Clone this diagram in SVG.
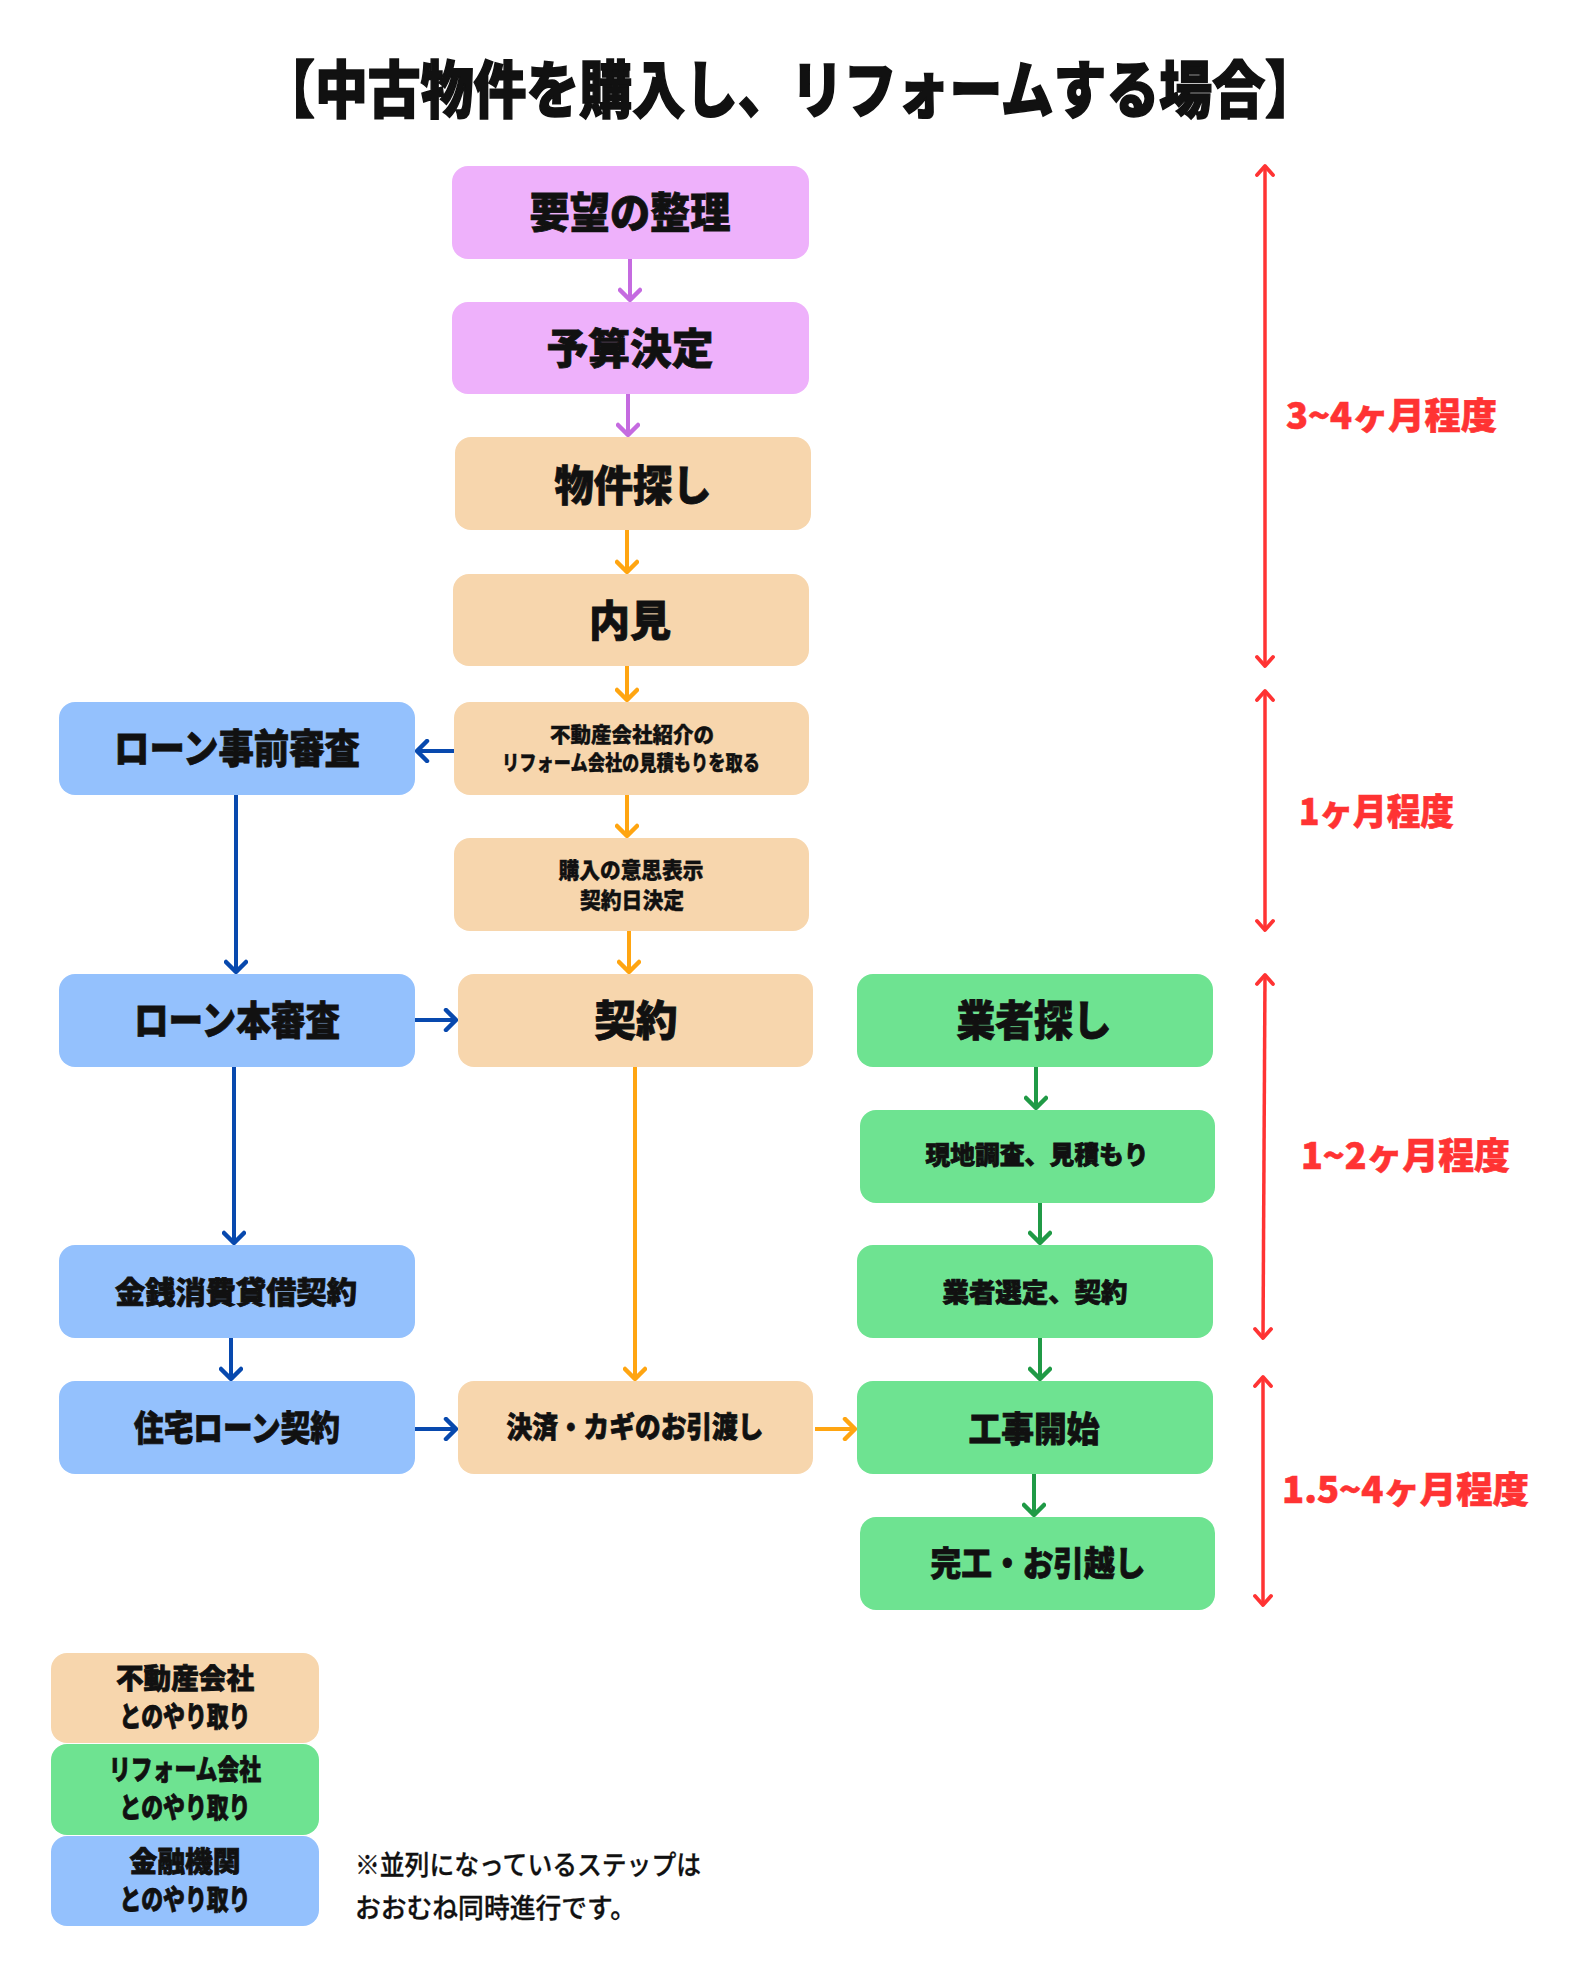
<svg xmlns="http://www.w3.org/2000/svg" width="1581" height="1977" viewBox="0 0 1581 1977">
<defs>
<style>
.t{font-family:"Noto Sans CJK JP","Noto Sans",sans-serif;font-weight:900;fill:#111;stroke:#111;stroke-width:0.8;text-anchor:middle;dominant-baseline:central;}
.r{font-family:"Noto Sans CJK JP","Noto Sans",sans-serif;font-weight:900;fill:#FF3333;stroke:#FF3333;stroke-width:0.6;dominant-baseline:central;}
.note{font-family:"Noto Sans CJK JP","Noto Sans",sans-serif;font-weight:500;fill:#111;stroke:#111;stroke-width:0.3;dominant-baseline:central;}
.pu{fill:#EEB1FB;}
.pe{fill:#F7D6AD;}
.bl{fill:#94C1FD;}
.gr{fill:#6EE391;}
.c{fill:none;stroke-width:4;}
.cp{stroke:#C56BE0;marker-end:url(#mp);}
.co{stroke:#FFA511;marker-end:url(#mo);}
.cb{stroke:#0849AE;marker-end:url(#mb);}
.cg{stroke:#209A46;marker-end:url(#mg);}
.cr{stroke:#FF3333;stroke-width:3.5;marker-end:url(#mr);marker-start:url(#mr);}
</style>
<marker id="mp" viewBox="0 0 24 24" refX="20" refY="12" markerWidth="24" markerHeight="24" markerUnits="userSpaceOnUse" orient="auto-start-reverse"><path d="M10,2 L20,12 L10,22" fill="none" stroke="#C56BE0" stroke-width="4.5" stroke-linecap="round" stroke-linejoin="round"/></marker>
<marker id="mo" viewBox="0 0 24 24" refX="20" refY="12" markerWidth="24" markerHeight="24" markerUnits="userSpaceOnUse" orient="auto-start-reverse"><path d="M10,2 L20,12 L10,22" fill="none" stroke="#FFA511" stroke-width="4.5" stroke-linecap="round" stroke-linejoin="round"/></marker>
<marker id="mb" viewBox="0 0 24 24" refX="20" refY="12" markerWidth="24" markerHeight="24" markerUnits="userSpaceOnUse" orient="auto-start-reverse"><path d="M10,2 L20,12 L10,22" fill="none" stroke="#0849AE" stroke-width="4.5" stroke-linecap="round" stroke-linejoin="round"/></marker>
<marker id="mg" viewBox="0 0 24 24" refX="20" refY="12" markerWidth="24" markerHeight="24" markerUnits="userSpaceOnUse" orient="auto-start-reverse"><path d="M10,2 L20,12 L10,22" fill="none" stroke="#209A46" stroke-width="4.5" stroke-linecap="round" stroke-linejoin="round"/></marker>
<marker id="mr" viewBox="0 0 24 24" refX="20" refY="12" markerWidth="24" markerHeight="24" markerUnits="userSpaceOnUse" orient="auto-start-reverse"><path d="M11,4 L20,12 L11,20" fill="none" stroke="#FF3333" stroke-width="3.8" stroke-linecap="round" stroke-linejoin="round"/></marker>
</defs>
<rect width="1581" height="1977" fill="#FFFFFF"/>

<text class="t" x="790" y="86" font-size="62" style="stroke-width:1.6" textLength="1056" lengthAdjust="spacingAndGlyphs">【中古物件を購入し、リフォームする場合】</text>

<g id="connectors">
<line class="c cp" x1="630" y1="259" x2="630" y2="300"/>
<line class="c cp" x1="628" y1="394" x2="628" y2="435"/>
<line class="c co" x1="627" y1="530" x2="627" y2="572"/>
<line class="c co" x1="627" y1="666" x2="627" y2="700"/>
<line class="c cb" x1="454" y1="751" x2="417" y2="751"/>
<line class="c co" x1="627" y1="795" x2="627" y2="836"/>
<line class="c co" x1="629" y1="931" x2="629" y2="972"/>
<line class="c cb" x1="236" y1="795" x2="236" y2="972"/>
<line class="c cb" x1="415" y1="1020" x2="456" y2="1020"/>
<line class="c cb" x1="234" y1="1067" x2="234" y2="1243"/>
<line class="c cb" x1="231" y1="1338" x2="231" y2="1379"/>
<line class="c co" x1="635" y1="1067" x2="635" y2="1379"/>
<line class="c cb" x1="415" y1="1429" x2="456" y2="1429"/>
<line class="c co" x1="815" y1="1429" x2="855" y2="1429"/>
<line class="c cg" x1="1036" y1="1067" x2="1036" y2="1108"/>
<line class="c cg" x1="1040" y1="1203" x2="1040" y2="1243"/>
<line class="c cg" x1="1040" y1="1338" x2="1040" y2="1379"/>
<line class="c cg" x1="1034" y1="1474" x2="1034" y2="1515"/>
<line class="c cr" x1="1265" y1="166" x2="1265" y2="666"/>
<line class="c cr" x1="1265" y1="691" x2="1265" y2="930"/>
<line class="c cr" x1="1265" y1="975" x2="1263" y2="1338"/>
<line class="c cr" x1="1263" y1="1377" x2="1263" y2="1605"/>
</g>

<g id="n-youbou"><rect class="pu" x="452" y="166" width="357" height="93" rx="16"/><text class="t" x="630" y="209" font-size="42" textLength="201" lengthAdjust="spacingAndGlyphs">要望の整理</text></g>
<g id="n-yosan"><rect class="pu" x="452" y="302" width="357" height="92" rx="16"/><text class="t" x="630" y="345" font-size="42" textLength="167" lengthAdjust="spacingAndGlyphs">予算決定</text></g>
<g id="n-bukken"><rect class="pe" x="455" y="437" width="356" height="93" rx="16"/><text class="t" x="633" y="482" font-size="42" textLength="157" lengthAdjust="spacingAndGlyphs">物件探し</text></g>
<g id="n-naiken"><rect class="pe" x="453" y="574" width="356" height="92" rx="16"/><text class="t" x="630" y="617" font-size="42" textLength="82" lengthAdjust="spacingAndGlyphs">内見</text></g>
<g id="n-shoukai"><rect class="pe" x="454" y="702" width="355" height="93" rx="16"/><text class="t" x="632" y="733" font-size="21" style="stroke-width:0.4" textLength="164" lengthAdjust="spacingAndGlyphs">不動産会社紹介の</text><text class="t" x="631" y="761" font-size="21" style="stroke-width:0.4" textLength="258" lengthAdjust="spacingAndGlyphs">リフォーム会社の見積もりを取る</text></g>
<g id="n-ishi"><rect class="pe" x="454" y="838" width="355" height="93" rx="16"/><text class="t" x="631" y="868" font-size="22" style="stroke-width:0.4" textLength="145" lengthAdjust="spacingAndGlyphs">購入の意思表示</text><text class="t" x="632" y="898" font-size="22" style="stroke-width:0.4" textLength="104" lengthAdjust="spacingAndGlyphs">契約日決定</text></g>
<g id="n-keiyaku"><rect class="pe" x="458" y="974" width="355" height="93" rx="16"/><text class="t" x="636" y="1017" font-size="42" textLength="83" lengthAdjust="spacingAndGlyphs">契約</text></g>
<g id="n-kessai"><rect class="pe" x="458" y="1381" width="355" height="93" rx="16"/><text class="t" x="635" y="1425" font-size="29" textLength="257" lengthAdjust="spacingAndGlyphs">決済・カギのお引渡し</text></g>

<g id="b-jizen"><rect class="bl" x="59" y="702" width="356" height="93" rx="16"/><text class="t" x="237" y="746" font-size="40" textLength="246" lengthAdjust="spacingAndGlyphs">ローン事前審査</text></g>
<g id="b-hon"><rect class="bl" x="59" y="974" width="356" height="93" rx="16"/><text class="t" x="237" y="1018" font-size="40" textLength="206" lengthAdjust="spacingAndGlyphs">ローン本審査</text></g>
<g id="b-kinsen"><rect class="bl" x="59" y="1245" width="356" height="93" rx="16"/><text class="t" x="236" y="1290" font-size="30" textLength="242" lengthAdjust="spacingAndGlyphs">金銭消費貸借契約</text></g>
<g id="b-jutaku"><rect class="bl" x="59" y="1381" width="356" height="93" rx="16"/><text class="t" x="237" y="1425" font-size="35" textLength="206" lengthAdjust="spacingAndGlyphs">住宅ローン契約</text></g>

<g id="g-gyousha"><rect class="gr" x="857" y="974" width="356" height="93" rx="16"/><text class="t" x="1034" y="1017" font-size="42" textLength="155" lengthAdjust="spacingAndGlyphs">業者探し</text></g>
<g id="g-genchi"><rect class="gr" x="860" y="1110" width="355" height="93" rx="16"/><text class="t" x="1037" y="1153" font-size="25" textLength="223" lengthAdjust="spacingAndGlyphs">現地調査、見積もり</text></g>
<g id="g-sentei"><rect class="gr" x="857" y="1245" width="356" height="93" rx="16"/><text class="t" x="1035" y="1290" font-size="26" textLength="185" lengthAdjust="spacingAndGlyphs">業者選定、契約</text></g>
<g id="g-kouji"><rect class="gr" x="857" y="1381" width="356" height="93" rx="16"/><text class="t" x="1034" y="1426" font-size="35" textLength="131" lengthAdjust="spacingAndGlyphs">工事開始</text></g>
<g id="g-kankou"><rect class="gr" x="860" y="1517" width="355" height="93" rx="16"/><text class="t" x="1038" y="1561" font-size="34" textLength="215" lengthAdjust="spacingAndGlyphs">完工・お引越し</text></g>

<g id="durations">
<text class="r" x="1286" y="413" font-size="36" textLength="211" lengthAdjust="spacingAndGlyphs">3~4ヶ月程度</text>
<text class="r" x="1299" y="809" font-size="36" textLength="155" lengthAdjust="spacingAndGlyphs">1ヶ月程度</text>
<text class="r" x="1301" y="1153" font-size="36" textLength="209" lengthAdjust="spacingAndGlyphs">1~2ヶ月程度</text>
<text class="r" x="1282" y="1487" font-size="36" textLength="247" lengthAdjust="spacingAndGlyphs">1.5~4ヶ月程度</text>
</g>

<g id="legend-fudousan"><rect class="pe" x="51" y="1653" width="268" height="90" rx="16"/><text class="t" x="185" y="1677" font-size="28" textLength="138" lengthAdjust="spacingAndGlyphs">不動産会社</text><text class="t" x="185" y="1715" font-size="28" textLength="131" lengthAdjust="spacingAndGlyphs">とのやり取り</text></g>
<g id="legend-reform"><rect class="gr" x="51" y="1744" width="268" height="91" rx="16"/><text class="t" x="185" y="1768" font-size="28" textLength="152" lengthAdjust="spacingAndGlyphs">リフォーム会社</text><text class="t" x="185" y="1806" font-size="28" textLength="131" lengthAdjust="spacingAndGlyphs">とのやり取り</text></g>
<g id="legend-kinyuu"><rect class="bl" x="51" y="1836" width="268" height="90" rx="16"/><text class="t" x="185" y="1860" font-size="28" textLength="111" lengthAdjust="spacingAndGlyphs">金融機関</text><text class="t" x="185" y="1898" font-size="28" textLength="131" lengthAdjust="spacingAndGlyphs">とのやり取り</text></g>

<g id="note">
<text class="note" x="355" y="1863" font-size="27" textLength="346" lengthAdjust="spacingAndGlyphs">※並列になっているステップは</text>
<text class="note" x="355" y="1906" font-size="27" textLength="281" lengthAdjust="spacingAndGlyphs">おおむね同時進行です。</text>
</g>
</svg>
